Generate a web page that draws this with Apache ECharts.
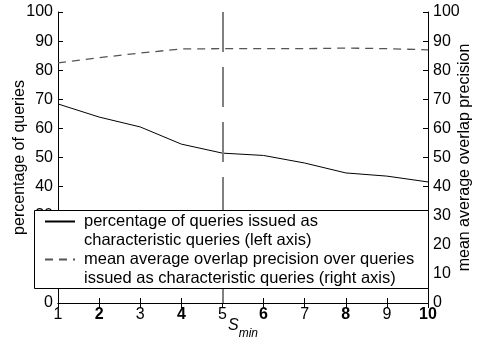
<!DOCTYPE html>
<html>
<head>
<meta charset="utf-8">
<script src="https://cdn.jsdelivr.net/npm/echarts@6/dist/echarts.min.js"></script>
<style>
  html, body { margin: 0; padding: 0; background: #fff; }
  #chart { width: 477px; height: 344px; }
</style>
</head>
<body>
<div id="chart"></div>
<script>
// S_min values on the x axis
const sMinValues = [1, 2, 3, 4, 5, 6, 7, 8, 9, 10]
// left axis: percentage of queries issued as characteristic queries
const pctQueries = [68.4, 63.9, 60.5, 54.6, 51.5, 50.7, 48.1, 44.7, 43.6, 41.6]
// right axis: mean average overlap precision
const overlapPrecision = [82.5, 84.3, 85.9, 87.3, 87.4, 87.4, 87.4, 87.6, 87.4, 87.0]
const chosenSMin = 5
const seriesNames = ['pct', 'map']
// leading blank line so the icon sits on the first text line
const legendTexts = {
  pct: '\npercentage of queries issued as\ncharacteristic queries (left axis)',
  map: '\nmean average overlap precision over queries\nissued as characteristic queries (right axis)'
}

const font = 'Liberation Sans, Arial, sans-serif'
const chart = echarts.init(document.getElementById('chart'))

const yAxisBase = {
  type: 'value',
  min: 0,
  max: 100,
  interval: 10,
  nameLocation: 'middle',
  nameMoveOverlap: false,
  nameTextStyle: { fontFamily: font, fontSize: 16, color: '#000' },
  axisLine: { show: true, lineStyle: { color: '#000', width: 1 } },
  axisTick: { show: true, inside: true, length: 5, lineStyle: { color: '#000' } },
  splitLine: { show: false },
  axisLabel: { fontFamily: font, fontSize: 16, color: '#000', margin: 5 }
}

chart.setOption({
  animation: false,
  grid: { left: 58, right: 49, top: 12, bottom: 41, outerBoundsMode: 'none' },
  legend: {
    orient: 'vertical',
    left: 44,
    top: 193,
    padding: 0,
    itemWidth: 30,
    itemHeight: 14,
    itemGap: -19,
    z: 20,
    data: seriesNames,
    formatter: name => legendTexts[name],
    itemStyle: { opacity: 0 },
    textStyle: { fontFamily: font, fontSize: 16.5, color: '#000', lineHeight: 19, padding: [0, 0, 0, 4] }
  },
  graphic: [{
    type: 'rect',
    left: 34,
    top: 210,
    z: 10,
    shape: { width: 394, height: 78 },
    style: { fill: '#fff', stroke: '#000', lineWidth: 1 }
  }],
  xAxis: [{
    type: 'value',
    min: 1,
    max: 10,
    interval: 1,
    name: '{s|S}{m|min}',
    nameLocation: 'middle',
    nameMoveOverlap: false,
    nameGap: 9,
    nameTextStyle: {
      rich: {
        s: { fontFamily: font, fontSize: 16, fontStyle: 'italic', color: '#000' },
        m: { fontFamily: font, fontSize: 12, fontStyle: 'italic', color: '#000', padding: [16, 0, 0, 0] }
      }
    },
    axisLine: { lineStyle: { color: '#000', width: 1 } },
    axisTick: { inside: true, length: 5, lineStyle: { color: '#000' } },
    splitLine: { show: false },
    axisLabel: {
      margin: 4,
      formatter: v => (v % 2 === 0 ? '{b|' + v + '}' : '{n|' + v + '}'),
      rich: {
        b: { fontFamily: font, fontSize: 16, fontWeight: 'bold', color: '#000' },
        n: { fontFamily: font, fontSize: 16, color: '#000' }
      }
    }
  }, {
    type: 'value',
    position: 'top',
    min: 1,
    max: 10,
    interval: 1,
    axisLine: { lineStyle: { color: '#000', width: 1 } },
    axisTick: { inside: true, length: 5, lineStyle: { color: '#000' } },
    axisLabel: { show: false },
    splitLine: { show: false }
  }],
  yAxis: [
    Object.assign({}, yAxisBase, { position: 'left', name: 'percentage of queries', nameGap: 30 }),
    Object.assign({}, yAxisBase, { position: 'right', name: 'mean average overlap precision', nameGap: 29 })
  ],
  series: [{
    name: 'pct',
    type: 'line',
    yAxisIndex: 0,
    symbol: 'none',
    data: sMinValues.map((x, i) => [x, pctQueries[i]]),
    lineStyle: { color: '#000', width: 1 },
    itemStyle: { color: '#000' },
    markLine: {
      silent: true,
      symbol: 'none',
      label: { show: false },
      lineStyle: { color: '#808080', width: 2, type: [40, 15] },
      data: [[{ coord: [chosenSMin, 100] }, { coord: [chosenSMin, 0] }]]
    }
  }, {
    name: 'map',
    type: 'line',
    yAxisIndex: 1,
    symbol: 'none',
    data: sMinValues.map((x, i) => [x, overlapPrecision[i]]),
    lineStyle: { color: '#555', width: 1.3, type: [8, 6] },
    itemStyle: { color: '#555' }
  }]
})
</script>
</body>
</html>
